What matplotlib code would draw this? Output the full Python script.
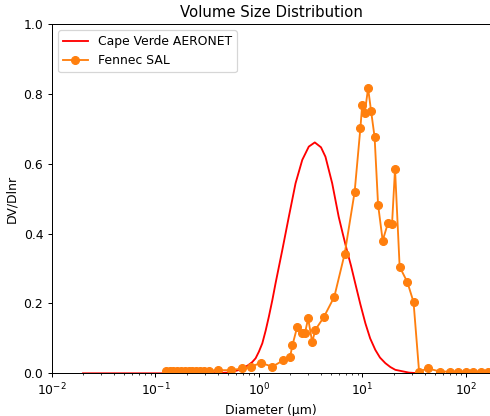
import matplotlib
matplotlib.use("Agg")
import matplotlib.pyplot as plt
import numpy as np

# Cape Verde AERONET
aeronet_logd = [-1.70, -1.0, -0.5, -0.30, -0.25, -0.20, -0.15, -0.10, -0.065, -0.032,
                0.0, 0.033, 0.065, 0.096, 0.13, 0.161, 0.226, 0.289, 0.354, 0.419,
                0.482, 0.54, 0.60, 0.643, 0.708, 0.771, 0.81, 0.852, 0.89, 0.933,
                0.98, 1.029, 1.075, 1.125, 1.17, 1.222, 1.27, 1.318, 1.45, 1.55]
aeronet_dv = [0.0, 0.0, 0.0, 0.002, 0.005, 0.009, 0.015, 0.024, 0.032, 0.043,
              0.062, 0.086, 0.122, 0.162, 0.210, 0.258, 0.353, 0.448, 0.544, 0.611,
              0.649, 0.661, 0.647, 0.620, 0.544, 0.448, 0.400, 0.350, 0.308, 0.255,
              0.198, 0.143, 0.100, 0.067, 0.045, 0.029, 0.018, 0.010, 0.002, 0.0]

# Fennec SAL
fennec_d = [0.126, 0.137, 0.149, 0.162, 0.176, 0.192, 0.209, 0.227, 0.248, 0.270,
            0.295, 0.327, 0.402, 0.533, 0.692, 0.845, 1.04, 1.35, 1.71, 2.00,
            2.11, 2.35, 2.62, 2.78, 2.99, 3.27, 3.52, 4.24, 5.35, 6.75,
            8.41, 9.57, 9.95, 10.52, 11.35, 12.13, 13.12, 14.17, 15.70, 17.70,
            19.33, 20.67, 22.9, 27.2, 31.2, 35.3, 42.8, 56.5, 70.6, 84.3,
            100.7, 117.6, 140.5, 164.0, 195.0]
fennec_dv = [0.007, 0.007, 0.007, 0.007, 0.007, 0.007, 0.007, 0.007, 0.007, 0.007,
             0.007, 0.007, 0.009, 0.009, 0.014, 0.019, 0.030, 0.019, 0.037, 0.047,
             0.081, 0.134, 0.114, 0.114, 0.157, 0.090, 0.125, 0.161, 0.219, 0.343,
             0.519, 0.703, 0.768, 0.744, 0.816, 0.751, 0.676, 0.483, 0.380, 0.431,
             0.427, 0.585, 0.305, 0.261, 0.204, 0.005, 0.014, 0.005, 0.005, 0.005,
             0.005, 0.005, 0.005, 0.005, 0.005]

aeronet_d = [10 ** v for v in aeronet_logd]

DPI = 89
fig = plt.figure(figsize=(490 / DPI, 416 / DPI), dpi=DPI)
ax = fig.add_axes([0.106, 0.1026, 0.894, 0.8397])

ax.plot(aeronet_d, aeronet_dv, color="red", lw=1.5, label="Cape Verde AERONET")
ax.plot(fennec_d, fennec_dv, color="#ff7f0e", lw=1.5, marker="o", markersize=6.3,
        label="Fennec SAL")

ax.set_xscale("log")
ax.set_xlim(0.01, 171)
ax.set_ylim(0, 1.0)
ax.set_yticks([0.0, 0.2, 0.4, 0.6, 0.8, 1.0])
ax.set_xlabel("Diameter (\u00b5m)")
ax.set_ylabel("DV/Dlnr")
ax.set_title("Volume Size Distribution")
ax.spines["right"].set_visible(False)
ax.legend(loc="upper left")

fig.savefig("out.png", dpi=DPI)
